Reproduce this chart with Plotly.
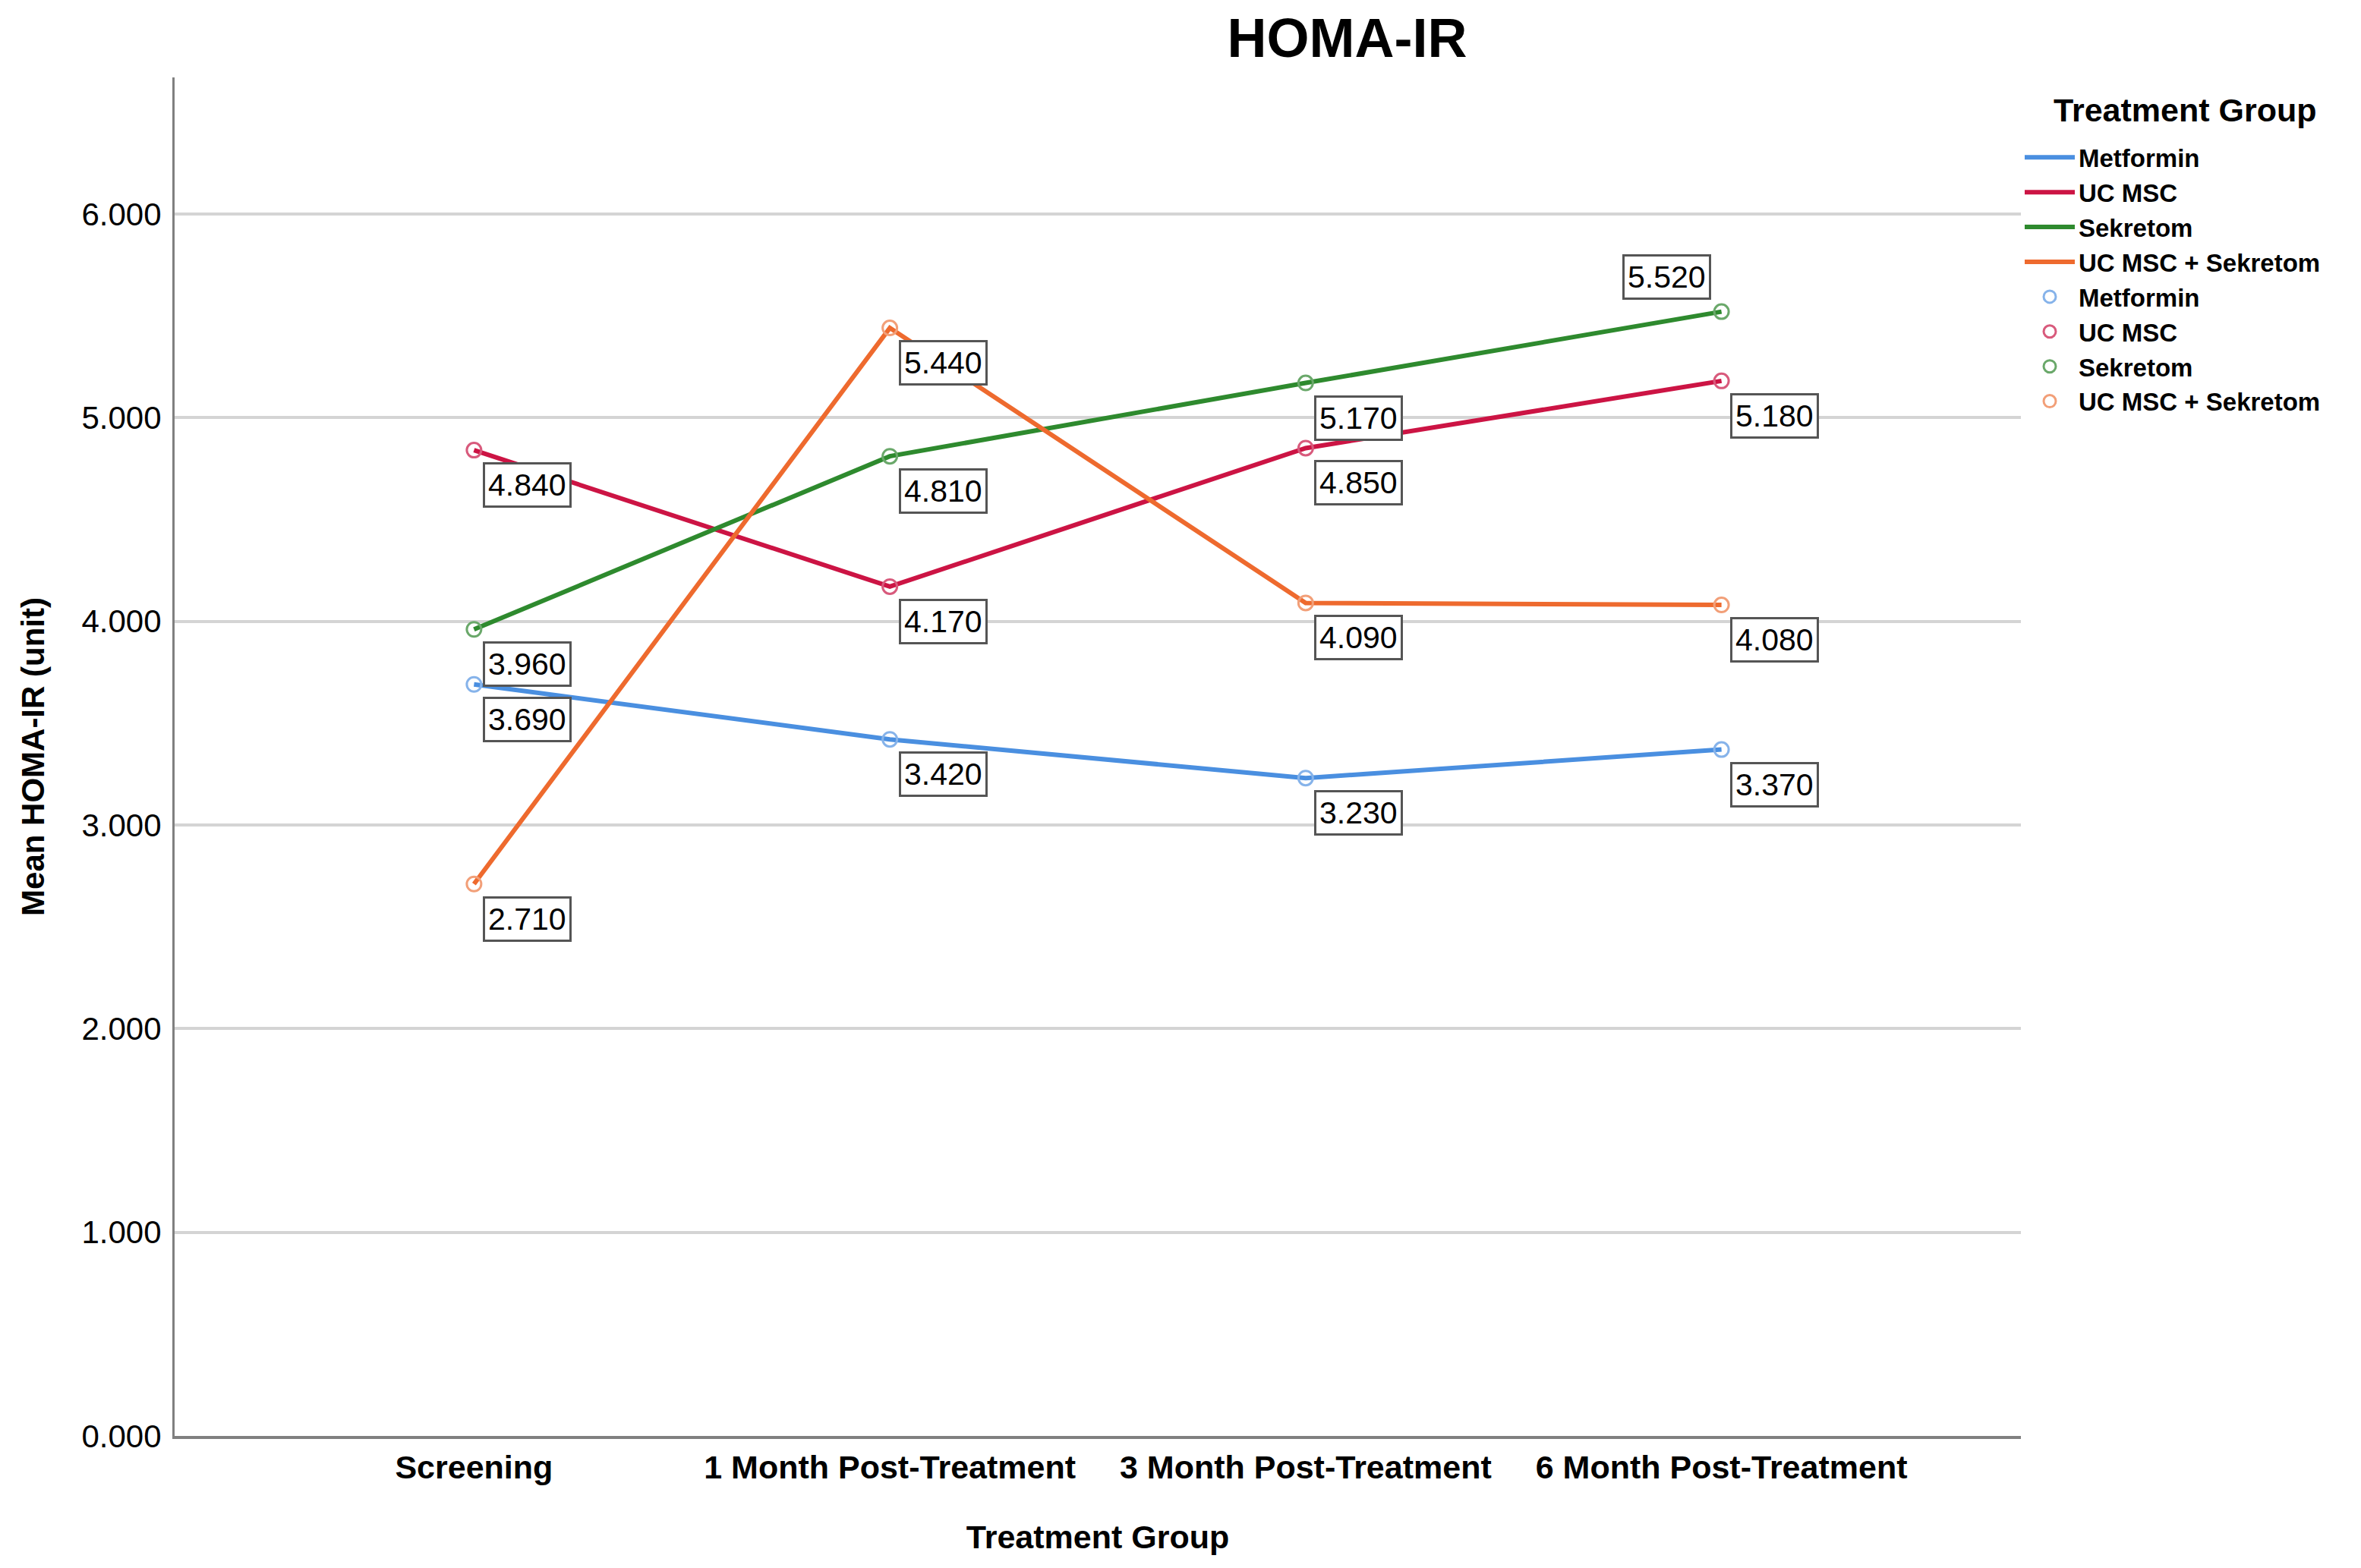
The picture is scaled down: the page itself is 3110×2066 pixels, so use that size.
import plotly.graph_objects as go

# Data
timepoints = ["Screening", "1 Month Post-Treatment", "3 Month Post-Treatment", "6 Month Post-Treatment"]
groups = ["Metformin", "UC MSC", "Sekretom", "UC MSC + Sekretom"]

metformin = [3.69, 3.42, 3.23, 3.37]
uc_msc = [4.84, 4.17, 4.85, 5.18]
sekretom = [3.96, 4.81, 5.17, 5.52]
uc_msc_sekretom = [2.71, 5.44, 4.09, 4.08]

series = [metformin, uc_msc, sekretom, uc_msc_sekretom]
line_colors = ["#4a8fe0", "#cc1444", "#2e8a2e", "#ee6a2e"]
marker_colors = ["#86b3ea", "#d85a7c", "#6aa86a", "#f29f78"]

FONT = "Arial, Liberation Sans, sans-serif"

fig = go.Figure()

# line traces (first block of legend)
for name, vals, col in zip(groups, series, line_colors):
    fig.add_trace(go.Scatter(
        x=timepoints, y=vals, mode="lines", name=f"<b>{name}</b>",
        line=dict(color=col, width=6)))

# marker traces (second block of legend)
for name, vals, col in zip(groups, series, marker_colors):
    fig.add_trace(go.Scatter(
        x=timepoints, y=vals, mode="markers", name=f"<b>{name}</b>",
        marker=dict(symbol="circle-open", size=19, color=col, line=dict(width=3, color=col))))

# boxed value labels
for gi, vals in enumerate(series):
    for ti, v in enumerate(vals):
        # the 6-month Sekretom label sits above-left of its point
        above = (gi == 2 and ti == 3)
        fig.add_annotation(
            x=timepoints[ti], y=v, text=f"{v:.3f}", showarrow=False,
            xshift=-72 if above else 70, yshift=46 if above else -46,
            font=dict(family=FONT, size=41, color="black"),
            bgcolor="white", bordercolor="#555555", borderwidth=3, borderpad=4)

# legend heading
fig.add_annotation(
    text="<b>Treatment Group</b>", xref="paper", yref="paper",
    x=1.0888, y=0.976, xanchor="center", yanchor="middle", showarrow=False,
    font=dict(family=FONT, size=43, color="black"))

fig.update_layout(
    width=3110, height=2066,
    paper_bgcolor="white", plot_bgcolor="white",
    margin=dict(l=222, r=456, t=94, b=182),
    title=dict(text="<b>HOMA-IR</b>", x=0.568, xref="container", xanchor="center",
               y=0.992, yref="container", yanchor="top",
               font=dict(family=FONT, size=72, color="black")),
    legend=dict(
        x=1.0, xanchor="left", y=0.9568, yanchor="top",
        font=dict(family=FONT, size=33, color="black"),
        itemwidth=66, tracegroupgap=0, bgcolor="rgba(0,0,0,0)"),
    showlegend=True,
)

fig.update_xaxes(
    type="category", range=[-0.72, 3.72],
    showgrid=False, showline=True, linecolor="#808080", linewidth=4,
    ticks="", tickfont=dict(family=FONT, size=43, color="black"),
    tickprefix="<b>", ticksuffix="</b>",
    title=dict(text="<b>Treatment Group</b>", standoff=55,
               font=dict(family=FONT, size=43, color="black")),
    zeroline=False)

fig.update_yaxes(
    range=[0, 6.67], tickvals=[0, 1, 2, 3, 4, 5, 6], tickformat=".3f",
    showgrid=True, gridcolor="#d4d4d4", gridwidth=4,
    showline=True, linecolor="#808080", linewidth=3,
    ticks="", ticklabelstandoff=6, tickfont=dict(family=FONT, size=42, color="black"),
    title=dict(text="<b>Mean HOMA-IR (unit)</b>", standoff=36,
               font=dict(family=FONT, size=42, color="black")),
    zeroline=False)

fig.write_html("out.html")
